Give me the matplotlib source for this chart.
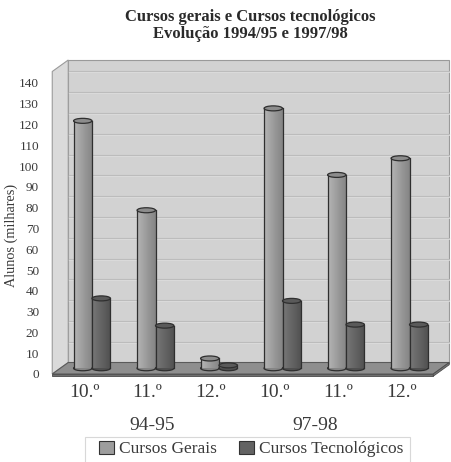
import numpy as np
import matplotlib
matplotlib.use('Agg')
import matplotlib.pyplot as plt
from matplotlib.patches import Polygon, Ellipse, Rectangle, Patch
from matplotlib.colors import LinearSegmentedColormap
from matplotlib.transforms import blended_transform_factory

# ---------------- data ----------------
categories = ['10.º', '11.º', '12.º', '10.º', '11.º', '12.º']
groups = ['94-95', '97-98']
group_pos = [1.07, 3.64]
series_names = ['Cursos Gerais', 'Cursos Tecnológicos']
gerais = [119, 76, 4.7, 125, 93, 101]
tecnologicos = [33.6, 20.5, 1.4, 32.4, 21, 21]
yticks = list(range(0, 141, 10))
title1 = 'Cursos gerais e Cursos tecnológicos'
title2 = 'Evolução 1994/95 e 1997/98'
ylabel = 'Alunos (milhares)'

plt.rcParams['font.family'] = ['Liberation Serif', 'DejaVu Serif']
TXT = '#3a3a3a'

W, H, DPI = 451, 462, 100
fig = plt.figure(figsize=(W / DPI, H / DPI), dpi=DPI)

x0_px, x1_px = 52.25, 433.25
y0_px = 374
ymax = 145.5
px_per_unit = 2.079
ax_h = ymax * px_per_unit
ax = fig.add_axes([x0_px / W, (H - y0_px) / H, (x1_px - x0_px) / W, ax_h / H])
n = len(categories)
xmin, xmax = -0.5, n - 0.5

ax.patch.set_visible(False)
for s in ax.spines.values():
    s.set_visible(False)

DX = 16 / ((x1_px - x0_px) / n)
DY = 11.5 / px_per_unit
T = 2.2 / px_per_unit

wall_ec = '#9a9a9a'
# back wall
ax.add_patch(Rectangle((xmin + DX, DY), n, ymax, fc='#d2d2d2', ec=wall_ec, lw=0.8,
                       clip_on=False, zorder=0))
# left wall
ax.add_patch(Polygon([(xmin, 0), (xmin + DX, DY), (xmin + DX, ymax + DY), (xmin, ymax)],
                     closed=True, fc='#dadada', ec=wall_ec, lw=0.8, clip_on=False, zorder=0.5))
# gridlines on back wall
for v in yticks[1:]:
    ax.plot([xmin + DX, xmax + DX], [v + DY, v + DY], color='#bcbcbc', lw=0.8,
            clip_on=False, zorder=0.2)
    ax.plot([xmin + DX, xmax + DX], [v + DY - 0.5, v + DY - 0.5], color='#dcdcdc', lw=0.6,
            clip_on=False, zorder=0.2)
# floor
ax.add_patch(Polygon([(xmin, 0), (xmax, 0), (xmax + DX, DY), (xmin + DX, DY)], closed=True,
                     fc='#8e8e8e', ec='#5a5a5a', lw=0.8, clip_on=False, zorder=1))
ax.add_patch(Rectangle((xmin, -T), n, T, fc='#6e6e6e', ec='#4a4a4a', lw=0.6,
                       clip_on=False, zorder=1))
ax.add_patch(Polygon([(xmax, 0), (xmax + DX, DY), (xmax + DX, DY - T), (xmax, -T)], closed=True,
                     fc='#777777', ec='#4a4a4a', lw=0.6, clip_on=False, zorder=1))

# bars (cylinders)
w = 0.29
eh = 5.0 / px_per_unit
b0 = DY / 2
styles = [
    dict(cols=['#b4b4b4', '#a4a4a4', '#939393', '#858585'], top='#8c8c8c', base='#9d9d9d'),
    dict(cols=['#777777', '#6a6a6a', '#5d5d5d', '#505050'], top='#5a5a5a', base='#636363'),
]
edge = '#2f2f2f'
grad = np.linspace(0, 1, 64).reshape(1, -1)
for s_idx, vals in enumerate([gerais, tecnologicos]):
    st = styles[s_idx]
    cm = LinearSegmentedColormap.from_list('g%d' % s_idx, st['cols'])
    off = -w / 2 if s_idx == 0 else w / 2
    xs = np.arange(n) + DX / 2 + off
    bars = ax.bar(xs, vals, width=w, bottom=b0, color=st['base'], edgecolor='none', zorder=3 + s_idx)
    for xc, v, patch in zip(xs, vals, bars):
        im = ax.imshow(grad, extent=[xc - w / 2, xc + w / 2, b0, b0 + v], cmap=cm,
                       aspect='auto', interpolation='bilinear', zorder=3 + s_idx + 0.1)
        im.set_clip_path(patch)
        ax.add_patch(Ellipse((xc, b0), w, eh, fc=st['cols'][-1], ec=edge, lw=0.9,
                             zorder=3 + s_idx - 0.05))
        ax.plot([xc - w / 2] * 2, [b0, b0 + v], color=edge, lw=0.9, zorder=3 + s_idx + 0.2)
        ax.plot([xc + w / 2] * 2, [b0, b0 + v], color=edge, lw=0.9, zorder=3 + s_idx + 0.2)
        ax.add_patch(Ellipse((xc, b0 + v), w, eh, fc=st['top'], ec=edge, lw=0.9,
                             zorder=3 + s_idx + 0.3))

ax.set_xlim(xmin, xmax)
ax.set_ylim(0, ymax)
ax.set_aspect('auto')

ax.set_yticks(yticks)
ax.set_yticklabels([str(v) for v in yticks], fontsize=9.5, color=TXT)
ax.tick_params(axis='y', length=0, pad=9.5)
ax.set_xticks(range(n))
ax.set_xticklabels(categories, fontsize=14, color=TXT)
ax.tick_params(axis='x', length=0, pad=7)

tr = blended_transform_factory(ax.transData, ax.transAxes)
for g, p in zip(groups, group_pos):
    ax.text(p, -(426 - y0_px) / ax_h, g, transform=tr, ha='center', va='center',
            fontsize=14, color=TXT)

fig.text(11 / W, 1 - 235 / H, ylabel, rotation=90, ha='center', va='center',
         fontsize=10.3, color=TXT)
fig.text(250 / W, 1 - 17 / H, title1, ha='center', va='center', fontsize=12,
         fontweight='bold', color='#2a2a2a')
fig.text(250 / W, 1 - 34 / H, title2, ha='center', va='center', fontsize=12,
         fontweight='bold', color='#2a2a2a')

# legend
fig.add_artist(Rectangle((85 / W, -0.01), 325 / W, (462 - 437) / H + 0.01,
                         transform=fig.transFigure, fill=False, ec='#d8d8d8', lw=0.8))
handles = [Patch(fc=styles[0]['base'], ec='#333333', lw=0.8),
           Patch(fc=styles[1]['base'], ec='#333333', lw=0.8)]
leg = fig.legend(handles=handles, labels=series_names, loc='center left',
                 bbox_to_anchor=(99 / W, 1 - 449 / H), ncol=2, frameon=False,
                 fontsize=12.5, handlelength=0.85, handleheight=0.85, handletextpad=0.3,
                 columnspacing=1.3, borderpad=0, borderaxespad=0)
for t in leg.get_texts():
    t.set_color(TXT)

fig.savefig('out.png', dpi=DPI)
